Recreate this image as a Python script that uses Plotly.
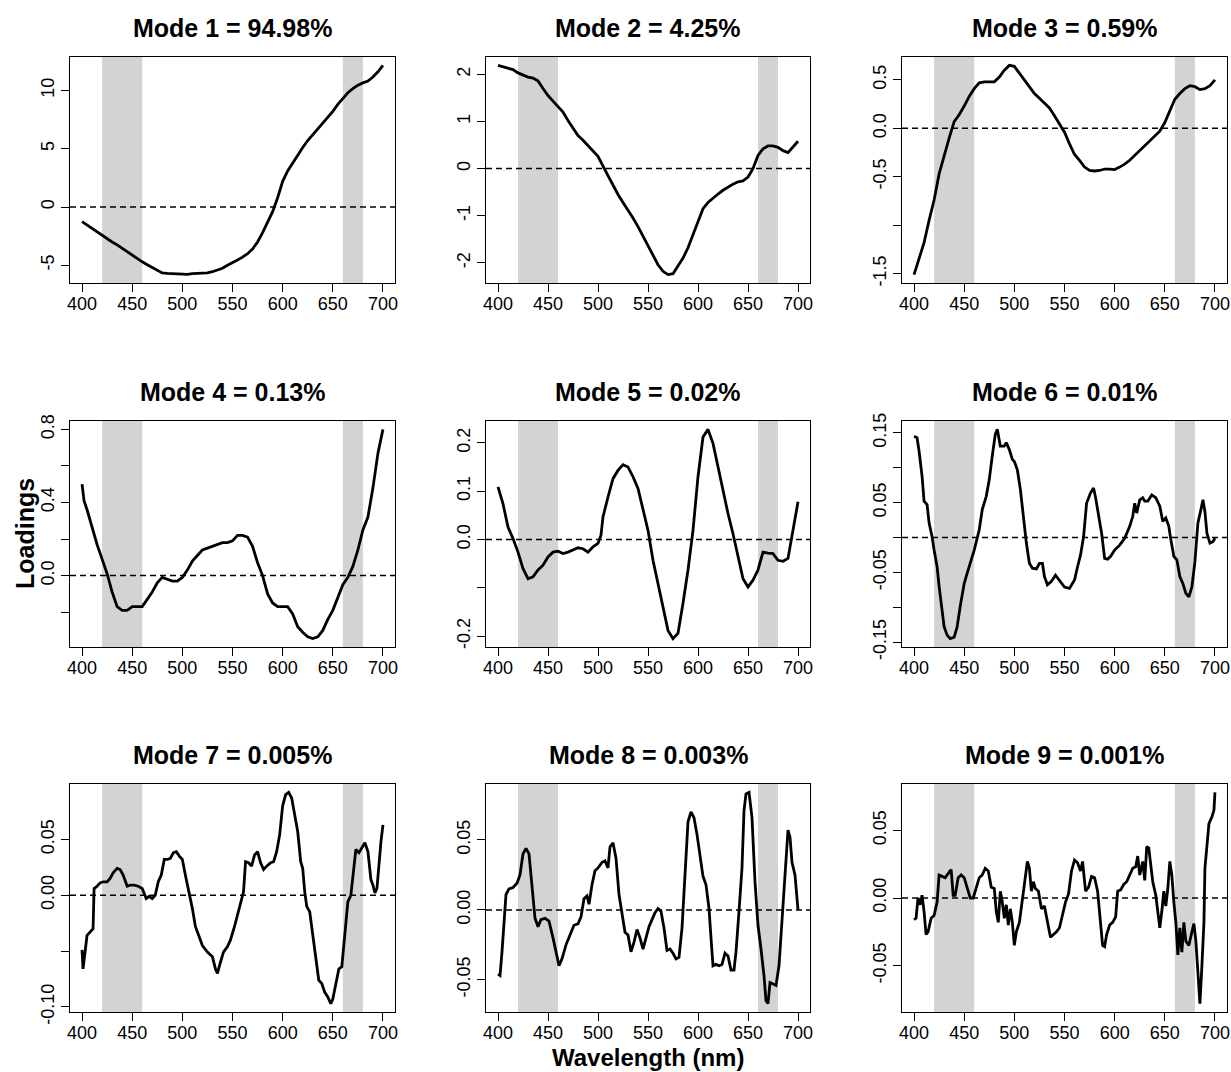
import plotly.graph_objects as go

# ---------------- data ----------------
titles = ["Mode 1 = 94.98%", "Mode 2 = 4.25%", "Mode 3 = 0.59%",
          "Mode 4 = 0.13%", "Mode 5 = 0.02%", "Mode 6 = 0.01%",
          "Mode 7 = 0.005%", "Mode 8 = 0.003%", "Mode 9 = 0.001%"]

bands = [(420, 460), (660, 680)]
x_ticks = [400, 450, 500, 550, 600, 650, 700]

wl_grid = [400, 405, 410, 415, 420, 425, 430, 435, 440, 445,
           450, 455, 460, 465, 470, 475, 480, 485, 490, 495,
           500, 505, 510, 515, 520, 525, 530, 535, 540, 545,
           550, 555, 560, 565, 570, 575, 580, 585, 590, 595,
           600, 605, 610, 615, 620, 625, 630, 635, 640, 645,
           650, 655, 660, 665, 670, 675, 680, 685, 690, 695, 700]

wl1 = wl_grid
load1 = [-1.25, -1.55, -1.85, -2.1, -2.4, -2.7, -3.0, -3.25, -3.55, -3.85,
         -4.15, -4.45, -4.7, -4.95, -5.2, -5.45, -5.65, -5.7, -5.72, -5.75,
         -5.8, -5.78, -5.72, -5.7, -5.68, -5.65, -5.55, -5.4, -5.25, -5.0,
         -4.8, -4.55, -4.3, -4.0, -3.6, -3.0, -2.2, -1.3, -0.4, 0.8,
         2.2, 3.1, 3.8, 4.5, 5.1, 5.7, 6.2, 6.7, 7.2, 7.7,
         8.2, 8.8, 9.35, 9.8, 10.15, 10.45, 10.65, 10.8, 11.15, 11.6, 12.15]

wl2 = wl_grid
load2 = [2.19, 2.16, 2.13, 2.1, 2.03, 1.98, 1.94, 1.92, 1.86, 1.7,
         1.55, 1.43, 1.32, 1.2, 1.02, 0.86, 0.70, 0.6, 0.49, 0.38,
         0.26, 0.05, -0.15, -0.36, -0.55, -0.72, -0.88, -1.05, -1.23, -1.43,
         -1.64, -1.84, -2.04, -2.18, -2.25, -2.23, -2.07, -1.9, -1.68, -1.40,
         -1.1, -0.85, -0.72, -0.62, -0.54, -0.46, -0.39, -0.33, -0.28, -0.26,
         -0.18, 0.0, 0.28, 0.42, 0.48, 0.48, 0.45, 0.38, 0.34, 0.45, 0.58]

wl3 = wl_grid
load3 = [-1.51, -1.35, -1.18, -0.95, -0.74, -0.47, -0.28, -0.10, 0.07, 0.14,
         0.23, 0.33, 0.41, 0.47, 0.48, 0.48, 0.48, 0.53, 0.60, 0.65,
         0.64, 0.57, 0.50, 0.43, 0.36, 0.31, 0.26, 0.21, 0.13, 0.04,
         -0.04, -0.16, -0.27, -0.33, -0.40, -0.435, -0.44, -0.435, -0.42, -0.42,
         -0.425, -0.40, -0.37, -0.33, -0.28, -0.23, -0.18, -0.13, -0.08, -0.03,
         0.06, 0.18, 0.30, 0.36, 0.41, 0.44, 0.43, 0.40, 0.41, 0.44, 0.50]

wl4 = [400, 402, 405, 410, 415, 420, 425, 430, 435, 440,
       445, 450, 455, 460, 465, 470, 475, 480, 485, 490,
       495, 500, 505, 510, 515, 520, 525, 530, 535, 540,
       545, 550, 555, 560, 565, 570, 575, 580, 585, 590,
       595, 600, 605, 610, 615, 620, 625, 630, 635, 640,
       645, 650, 655, 660, 665, 670, 675, 680, 685, 690,
       695, 700]
load4 = [0.50, 0.41, 0.36, 0.26, 0.17, 0.09, 0.01, -0.09, -0.17, -0.19,
         -0.19, -0.17, -0.17, -0.17, -0.13, -0.09, -0.04, -0.01, -0.02, -0.03,
         -0.03, -0.01, 0.03, 0.08, 0.11, 0.14, 0.15, 0.16, 0.17, 0.18,
         0.18, 0.19, 0.22, 0.22, 0.21, 0.16, 0.07, 0.0, -0.10, -0.15,
         -0.17, -0.17, -0.17, -0.21, -0.28, -0.31, -0.335, -0.345, -0.335, -0.30,
         -0.24, -0.19, -0.12, -0.05, -0.01, 0.05, 0.14, 0.25, 0.32, 0.48,
         0.67, 0.80]

wl5 = [400, 405, 410, 415, 420, 425, 430, 435, 440, 445,
       450, 455, 460, 465, 470, 475, 480, 485, 490, 495,
       500, 503, 505, 510, 515, 520, 525, 530, 535, 540,
       545, 550, 555, 560, 565, 570, 575, 580, 585, 590,
       595, 600, 605, 610, 615, 620, 625, 630, 635, 640,
       645, 650, 655, 660, 665, 670, 675, 680, 685, 690,
       695, 700]
load5 = [0.109, 0.074, 0.026, 0.002, -0.026, -0.060, -0.081, -0.077, -0.063, -0.053,
         -0.036, -0.026, -0.024, -0.029, -0.026, -0.022, -0.017, -0.019, -0.026, -0.015,
         -0.008, 0.009, 0.047, 0.088, 0.126, 0.143, 0.155, 0.150, 0.130, 0.106,
         0.061, 0.019, -0.043, -0.091, -0.139, -0.188, -0.205, -0.194, -0.132, -0.063,
         0.019, 0.130, 0.212, 0.228, 0.199, 0.150, 0.102, 0.054, 0.012, -0.036,
         -0.081, -0.098, -0.084, -0.063, -0.026, -0.028, -0.029, -0.043, -0.045, -0.039,
         0.019, 0.078]

wl6 = [400, 403, 405, 408, 410, 413, 415, 418, 420, 423,
       425, 428, 430, 433, 436, 440, 443, 446, 450, 453,
       456, 460, 465, 468, 472, 475, 478, 481, 483, 486,
       490, 492, 495, 498, 500, 503, 506, 510, 512, 515,
       518, 522, 525, 528, 530, 533, 537, 541, 545, 550,
       555, 560, 563, 566, 569, 572, 576, 579, 581, 584,
       587, 590, 593, 596, 600, 605, 610, 615, 618, 620,
       622, 625, 628, 630, 633, 637, 641, 645, 648, 651,
       654, 656, 659, 662, 665, 668, 671, 674, 677, 680,
       683, 686, 688, 690, 692, 695, 698, 700]
load6 = [0.145, 0.143, 0.124, 0.088, 0.052, 0.047, 0.021, 0.001, -0.018, -0.042,
         -0.070, -0.109, -0.128, -0.140, -0.145, -0.143, -0.128, -0.099, -0.066, -0.051,
         -0.037, -0.018, 0.011, 0.040, 0.059, 0.083, 0.117, 0.148, 0.155, 0.131,
         0.131, 0.136, 0.126, 0.112, 0.109, 0.097, 0.069, 0.016, -0.008, -0.037,
         -0.044, -0.045, -0.037, -0.037, -0.056, -0.068, -0.063, -0.054, -0.061, -0.071,
         -0.073, -0.061, -0.042, -0.025, 0.001, 0.049, 0.064, 0.071, 0.057, 0.030,
         0.006, -0.030, -0.031, -0.027, -0.018, -0.011, -0.001, 0.016, 0.030, 0.049,
         0.035, 0.054, 0.057, 0.052, 0.052, 0.061, 0.057, 0.045, 0.023, 0.028,
         0.016, -0.003, -0.027, -0.032, -0.056, -0.066, -0.080, -0.085, -0.071, -0.035,
         0.021, 0.040, 0.054, 0.037, 0.006, -0.008, -0.006, -0.001]

wl7 = [400, 401, 403, 405, 408, 411, 412, 415, 418, 421,
       425, 428, 431, 435, 438, 441, 445, 448, 452, 456,
       460, 464, 467, 470, 473, 476, 479, 482, 485, 488,
       491, 494, 497, 500, 503, 506, 510, 513, 517, 520,
       525, 530, 533, 535, 538, 541, 545, 548, 552, 555,
       558, 561, 563, 566, 569, 572, 575, 578, 581, 584,
       588, 591, 594, 597, 600, 603, 606, 609, 612, 615,
       618, 620, 622, 624, 627, 630, 633, 636, 639, 642,
       645, 648, 650, 653, 656, 659, 662, 665, 668, 671,
       673, 676, 679, 682, 685, 688, 690, 692, 694, 696,
       698, 700]
load7 = [-0.049, -0.066, -0.051, -0.036, -0.033, -0.030, 0.006, 0.008, 0.011, 0.012,
         0.012, 0.015, 0.020, 0.024, 0.023, 0.018, 0.008, 0.009, 0.009, 0.008,
         0.006, -0.003, -0.001, -0.003, 0.000, 0.012, 0.018, 0.032, 0.032, 0.033,
         0.038, 0.039, 0.035, 0.032, 0.018, 0.006, -0.012, -0.028, -0.037, -0.045,
         -0.051, -0.055, -0.066, -0.070, -0.060, -0.051, -0.046, -0.040, -0.028, -0.018,
         -0.006, 0.003, 0.030, 0.029, 0.026, 0.036, 0.039, 0.029, 0.023, 0.026,
         0.029, 0.030, 0.039, 0.054, 0.080, 0.090, 0.092, 0.087, 0.072, 0.057,
         0.030, 0.024, 0.003, -0.010, -0.015, -0.036, -0.060, -0.076, -0.079, -0.087,
         -0.091, -0.097, -0.093, -0.078, -0.066, -0.064, -0.036, -0.006, 0.000, 0.024,
         0.041, 0.038, 0.042, 0.047, 0.039, 0.014, 0.009, 0.002, 0.006, 0.030,
         0.048, 0.063]

wl8 = [400, 402, 404, 406, 408, 411, 415, 419, 422, 425,
       428, 431, 434, 437, 440, 443, 447, 451, 455, 458,
       461, 464, 468, 472, 476, 480, 483, 486, 489, 491,
       494, 497, 500, 504, 507, 510, 512, 515, 518, 521,
       524, 527, 530, 533, 536, 539, 542, 545, 548, 551,
       554, 557, 560, 563, 566, 569, 572, 575, 578, 581,
       584, 587, 590, 593, 596, 599, 602, 605, 608, 611,
       613, 615, 618, 621, 624, 627, 630, 633, 636, 638,
       641, 644, 646, 648, 651, 654, 657, 660, 663, 666,
       668, 670, 672, 675, 678, 681, 684, 687, 690, 692,
       694, 697, 699, 700]
load8 = [-0.046, -0.047, -0.030, -0.008, 0.011, 0.015, 0.016, 0.019, 0.025, 0.040,
         0.044, 0.040, 0.016, -0.006, -0.012, -0.007, -0.006, -0.008, -0.020, -0.030,
         -0.040, -0.035, -0.025, -0.018, -0.011, -0.010, -0.005, 0.008, 0.010, 0.004,
         0.018, 0.028, 0.030, 0.034, 0.035, 0.030, 0.045, 0.048, 0.037, 0.011,
         -0.004, -0.016, -0.018, -0.030, -0.023, -0.014, -0.020, -0.028, -0.020, -0.012,
         -0.007, -0.002, 0.001, -0.001, -0.013, -0.029, -0.028, -0.031, -0.035, -0.034,
         -0.013, 0.030, 0.063, 0.070, 0.066, 0.054, 0.037, 0.024, 0.018, 0.001,
         -0.020, -0.040, -0.039, -0.040, -0.039, -0.031, -0.033, -0.043, -0.043, -0.030,
         -0.001, 0.030, 0.071, 0.083, 0.084, 0.066, 0.020, -0.011, -0.028, -0.047,
         -0.065, -0.067, -0.052, -0.053, -0.054, -0.040, -0.008, 0.023, 0.057, 0.052,
         0.034, 0.025, 0.011, 0.000]

wl9 = [400, 402, 404, 406, 408, 410, 412, 414, 417, 420,
       423, 425, 428, 431, 434, 437, 439, 441, 444, 447,
       450, 453, 456, 459, 462, 465, 468, 471, 474, 477,
       480, 482, 484, 486, 488, 490, 492, 494, 496, 498,
       500, 502, 505, 508, 511, 513, 515, 517, 519, 521,
       524, 527, 530, 533, 536, 539, 542, 545, 548, 551,
       554, 557, 560, 563, 566, 568, 571, 574, 577, 580,
       583, 586, 588, 590, 592, 595, 598, 601, 603, 606,
       609, 612, 615, 618, 621, 623, 625, 628, 630, 632,
       634, 636, 638, 641, 643, 645, 647, 649, 651, 653,
       655, 657, 659, 661, 663, 665, 667, 669, 671, 674,
       677, 679, 681, 683, 685, 687, 689, 690, 692, 694,
       697, 699, 700]
load9 = [-0.016, -0.015, 0.000, -0.005, 0.002, -0.010, -0.027, -0.025, -0.015, -0.013,
         -0.003, 0.017, 0.016, 0.015, 0.018, 0.021, 0.002, 0.002, 0.015, 0.017,
         0.015, 0.008, 0.000, 0.000, 0.007, 0.015, 0.017, 0.022, 0.020, 0.008,
         0.007, -0.010, -0.018, 0.005, -0.003, -0.015, -0.005, -0.020, -0.008, -0.018,
         -0.035, -0.025, -0.018, 0.000, 0.017, 0.027, 0.022, 0.005, 0.012, 0.007,
         0.005, -0.008, -0.006, -0.018, -0.029, -0.027, -0.025, -0.022, -0.013, -0.003,
         0.003, 0.020, 0.028, 0.026, 0.020, 0.027, 0.005, 0.008, 0.016, 0.015,
         0.005, -0.020, -0.035, -0.036, -0.027, -0.020, -0.018, -0.014, 0.005, 0.006,
         0.010, 0.012, 0.017, 0.022, 0.023, 0.031, 0.017, 0.027, 0.013, 0.038,
         0.037, 0.022, 0.012, 0.002, -0.010, -0.022, -0.010, 0.005, -0.006, 0.007,
         0.027, 0.017, -0.003, -0.018, -0.042, -0.022, -0.040, -0.018, -0.032, -0.035,
         -0.025, -0.019, -0.032, -0.060, -0.078, -0.050, -0.018, 0.022, 0.037, 0.055,
         0.060, 0.065, 0.078]

y_tickvals = [
    [-5, 0, 5, 10],
    [-2, -1, 0, 1, 2],
    [-1.5, -1.0, -0.5, 0.0, 0.5],
    [-0.4, -0.2, 0.0, 0.2, 0.4, 0.6, 0.8],
    [-0.2, -0.1, 0.0, 0.1, 0.2],
    [-0.15, -0.10, -0.05, 0.0, 0.05, 0.10, 0.15],
    [-0.10, -0.05, 0.0, 0.05],
    [-0.05, 0.0, 0.05],
    [-0.05, 0.0, 0.05],
]
y_ticktext = [
    ["-5", "0", "5", "10"],
    ["-2", "-1", "0", "1", "2"],
    ["-1.5", "", "-0.5", "0.0", "0.5"],
    ["-0.4", "", "0.0", "", "0.4", "", "0.8"],
    ["-0.2", "", "0.0", "0.1", "0.2"],
    ["-0.15", "", "-0.05", "", "0.05", "", "0.15"],
    ["-0.10", "", "0.00", "0.05"],
    ["-0.05", "0.00", "0.05"],
    ["-0.05", "0.00", "0.05"],
]

wls = [wl1, wl2, wl3, wl4, wl5, wl6, wl7, wl8, wl9]
loads = [load1, load2, load3, load4, load5, load6, load7, load8, load9]

# ---------------- layout geometry (pixels) ----------------
W, H = 1231, 1072
col_px = [(70, 395), (486, 810), (902, 1227)]
row_px = [(57, 283), (421, 647), (784, 1012)]
FONT = "Arial, Liberation Sans, sans-serif"

fig = go.Figure()
layout = dict(
    width=W, height=H,
    margin=dict(l=0, r=0, t=0, b=0, pad=0, autoexpand=False),
    paper_bgcolor="white", plot_bgcolor="white", showlegend=False,
    font=dict(family=FONT, color="black"),
)
annotations = []
shapes = []

for i in range(9):
    r, c = divmod(i, 3)
    sfx = "" if i == 0 else str(i + 1)
    xa, ya = "x" + sfx, "y" + sfx
    x0p, x1p = col_px[c]
    y0p, y1p = row_px[r]
    xdom = [x0p / W, x1p / W]
    ydom = [1 - y1p / H, 1 - y0p / H]

    ymin, ymax = min(loads[i]), max(loads[i])
    pad = 0.04 * (ymax - ymin)
    xmin, xmax = 400, 700
    xpad = 0.04 * (xmax - xmin)

    layout["xaxis" + sfx] = dict(
        domain=xdom, anchor=ya, range=[xmin - xpad, xmax + xpad],
        tickvals=x_ticks, ticktext=[str(v) for v in x_ticks],
        ticks="outside", ticklen=8, tickwidth=1, tickcolor="black",
        ticklabelstandoff=-4,
        showline=True, linecolor="black", linewidth=1, mirror=True,
        showgrid=False, zeroline=False, automargin=False,
        tickfont=dict(family=FONT, size=18, color="black"),
    )
    layout["yaxis" + sfx] = dict(
        domain=ydom, anchor=xa, range=[ymin - pad, ymax + pad],
        tickvals=y_tickvals[i], ticktext=y_ticktext[i], tickangle=-90,
        ticks="outside", ticklen=8, tickwidth=1, tickcolor="black",
        showline=True, linecolor="black", linewidth=1, mirror=True,
        showgrid=False, zeroline=False, automargin=False,
        tickfont=dict(family=FONT, size=18, color="black"),
    )

    for (b0, b1) in bands:
        shapes.append(dict(type="rect", xref=xa, yref=ya + " domain",
                           x0=b0, x1=b1, y0=0, y1=1, fillcolor="#D3D3D3",
                           line=dict(width=0), layer="below"))
    shapes.append(dict(type="line", xref=xa + " domain", yref=ya,
                       x0=0, x1=1, y0=0, y1=0,
                       line=dict(color="black", width=1.5, dash="6px,4px"),
                       layer="below"))

    fig.add_trace(go.Scatter(x=wls[i], y=loads[i], mode="lines",
                             line=dict(color="black", width=2.8),
                             xaxis=xa, yaxis=ya, hoverinfo="skip"))

    annotations.append(dict(
        text="<b>" + titles[i] + "</b>", xref="paper", yref="paper",
        x=(x0p + x1p) / 2 / W, y=1 - (y0p - 29) / H,
        xanchor="center", yanchor="middle", showarrow=False,
        font=dict(family=FONT, size=25, color="black")))

annotations.append(dict(
    text="<b>Loadings</b>", xref="paper", yref="paper",
    x=25 / W, y=1 - 534 / H, xanchor="center", yanchor="middle",
    textangle=-90, showarrow=False,
    font=dict(family=FONT, size=25, color="black")))
annotations.append(dict(
    text="<b>Wavelength (nm)</b>", xref="paper", yref="paper",
    x=648 / W, y=0, xanchor="center", yanchor="bottom",
    showarrow=False, borderpad=0,
    font=dict(family=FONT, size=24, color="black")))

layout["annotations"] = annotations
layout["shapes"] = shapes
fig.update_layout(**layout)

fig.write_html("out.html")
